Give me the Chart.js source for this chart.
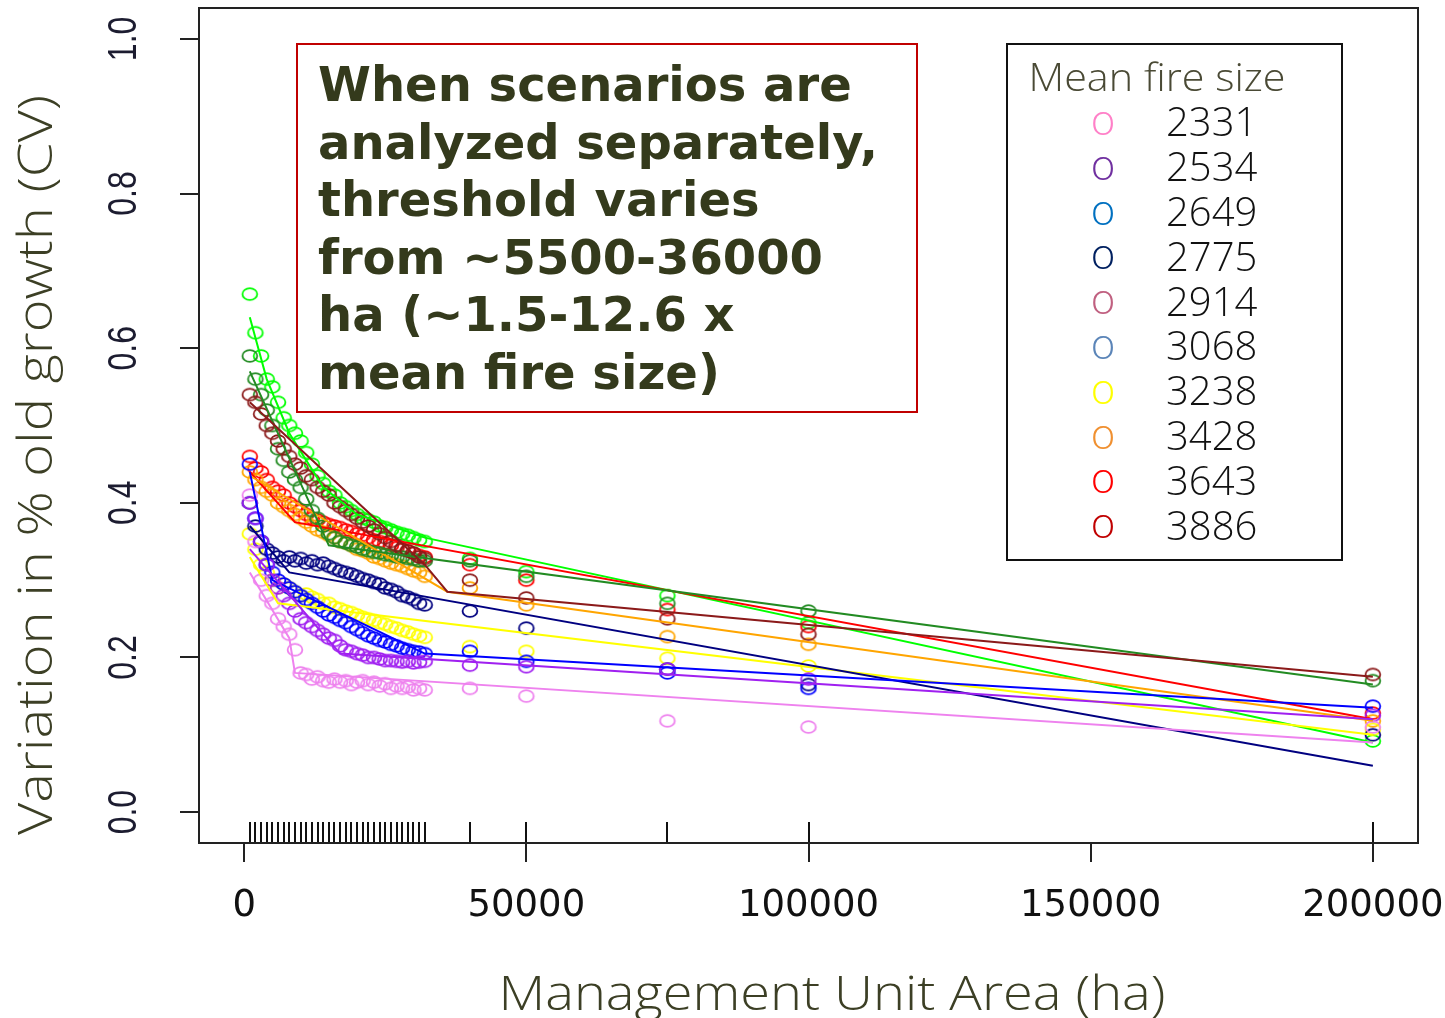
<!DOCTYPE html>
<html>
<head>
<meta charset="utf-8">
<script src="https://cdn.jsdelivr.net/npm/chart.js@4.4.0/dist/chart.umd.min.js"></script>
<style>
  html, body { margin: 0; padding: 0; background: #fff; }
  .wrap { width: 1445px; height: 1018px; position: relative; }
</style>
</head>
<body>
<div class="wrap"><canvas id="cvChart"></canvas></div>
<script>
// 管理単位面積 (ha)
const xArea = [1000, 2000, 3000, 4000, 5000, 6000, 7000, 8000, 9000, 10000,
  11000, 12000, 13000, 14000, 15000, 16000, 17000, 18000, 19000, 20000,
  21000, 22000, 23000, 24000, 25000, 26000, 27000, 28000, 29000, 30000,
  31000, 32000, 40000, 50000, 75000, 100000, 200000];

// 平均火災規模ごとの CV
const cv2331 = [0.41, 0.35, 0.30, 0.28, 0.27, 0.25, 0.24, 0.23, 0.21, 0.18, 0.178, 0.172, 0.175, 0.17, 0.168, 0.172, 0.168, 0.17, 0.165, 0.168, 0.17, 0.165, 0.168, 0.163, 0.166, 0.16, 0.163, 0.16, 0.162, 0.158, 0.16, 0.158, 0.16, 0.15, 0.118, 0.11, 0.11];
const cv2534 = [0.40, 0.38, 0.35, 0.32, 0.30, 0.29, 0.28, 0.27, 0.26, 0.25, 0.245, 0.24, 0.235, 0.23, 0.225, 0.222, 0.215, 0.21, 0.208, 0.205, 0.203, 0.20, 0.20, 0.198, 0.196, 0.196, 0.195, 0.194, 0.195, 0.193, 0.194, 0.195, 0.19, 0.188, 0.185, 0.172, 0.125];
const cv2649 = [0.45, 0.38, 0.35, 0.32, 0.31, 0.30, 0.295, 0.29, 0.285, 0.28, 0.275, 0.27, 0.265, 0.26, 0.255, 0.252, 0.248, 0.245, 0.24, 0.236, 0.232, 0.228, 0.225, 0.222, 0.22, 0.217, 0.215, 0.212, 0.21, 0.208, 0.207, 0.205, 0.208, 0.195, 0.18, 0.16, 0.137];
const cv2775 = [0.40, 0.37, 0.35, 0.34, 0.335, 0.33, 0.325, 0.33, 0.325, 0.328, 0.322, 0.325, 0.32, 0.322, 0.318, 0.315, 0.312, 0.31, 0.308, 0.305, 0.302, 0.30, 0.297, 0.295, 0.29, 0.288, 0.285, 0.28, 0.278, 0.275, 0.27, 0.268, 0.26, 0.238, 0.185, 0.165, 0.10];
const cv2914 = [0.54, 0.53, 0.515, 0.50, 0.49, 0.48, 0.47, 0.46, 0.45, 0.445, 0.435, 0.43, 0.42, 0.415, 0.41, 0.40, 0.395, 0.39, 0.385, 0.38, 0.375, 0.37, 0.365, 0.36, 0.355, 0.35, 0.345, 0.34, 0.338, 0.335, 0.33, 0.328, 0.30, 0.277, 0.25, 0.23, 0.178];
const cv3068 = [0.59, 0.56, 0.54, 0.52, 0.50, 0.47, 0.455, 0.44, 0.43, 0.42, 0.405, 0.39, 0.38, 0.37, 0.36, 0.355, 0.35, 0.348, 0.345, 0.343, 0.34, 0.338, 0.336, 0.335, 0.333, 0.332, 0.33, 0.33, 0.328, 0.327, 0.325, 0.325, 0.325, 0.305, 0.27, 0.26, 0.17];
const cv3238 = [0.36, 0.34, 0.32, 0.31, 0.30, 0.29, 0.295, 0.29, 0.285, 0.28, 0.282, 0.278, 0.275, 0.27, 0.27, 0.265, 0.263, 0.26, 0.258, 0.255, 0.252, 0.25, 0.248, 0.245, 0.243, 0.24, 0.238, 0.235, 0.233, 0.23, 0.228, 0.226, 0.214, 0.208, 0.199, 0.189, 0.107];
const cv3428 = [0.44, 0.43, 0.42, 0.415, 0.41, 0.40, 0.395, 0.39, 0.385, 0.38, 0.375, 0.37, 0.365, 0.362, 0.358, 0.355, 0.35, 0.348, 0.345, 0.34, 0.338, 0.335, 0.33, 0.328, 0.325, 0.322, 0.32, 0.318, 0.315, 0.312, 0.31, 0.305, 0.29, 0.268, 0.227, 0.217, 0.118];
const cv3643 = [0.46, 0.445, 0.44, 0.43, 0.42, 0.415, 0.41, 0.40, 0.395, 0.39, 0.385, 0.38, 0.378, 0.375, 0.372, 0.37, 0.368, 0.365, 0.363, 0.36, 0.358, 0.355, 0.352, 0.35, 0.348, 0.345, 0.342, 0.34, 0.338, 0.335, 0.332, 0.33, 0.32, 0.30, 0.262, 0.24, 0.128];
const cv3886 = [0.67, 0.62, 0.59, 0.56, 0.55, 0.53, 0.51, 0.50, 0.49, 0.48, 0.465, 0.45, 0.435, 0.425, 0.415, 0.41, 0.40, 0.395, 0.39, 0.385, 0.38, 0.378, 0.375, 0.37, 0.368, 0.365, 0.362, 0.36, 0.358, 0.355, 0.352, 0.35, 0.328, 0.311, 0.28, 0.245, 0.092];

// 回帰線（折れ線の頂点）
const fitX2331 = [1000, 8000, 9000, 200000];      const fitY2331 = [0.31, 0.225, 0.18, 0.09];
const fitX2534 = [1000, 17000, 200000];           const fitY2534 = [0.34, 0.205, 0.12];
const fitX2649 = [1000, 5000, 32000, 200000];     const fitY2649 = [0.44, 0.30, 0.205, 0.135];
const fitX2775 = [1000, 8000, 200000];            const fitY2775 = [0.37, 0.31, 0.06];
const fitX2914 = [1000, 32000, 36000, 200000];    const fitY2914 = [0.53, 0.32, 0.285, 0.175];
const fitX3068 = [1000, 15000, 200000];           const fitY3068 = [0.57, 0.345, 0.165];
const fitX3238 = [1000, 6000, 200000];            const fitY3238 = [0.33, 0.27, 0.10];
const fitX3428 = [1000, 36000, 200000];           const fitY3428 = [0.435, 0.285, 0.118];
const fitX3643 = [1000, 9000, 200000];            const fitY3643 = [0.44, 0.375, 0.12];
const fitX3886 = [1000, 4000, 8000, 14000, 20000, 32000, 200000];
const fitY3886 = [0.64, 0.56, 0.49, 0.42, 0.385, 0.355, 0.09];

// 凡例
const fireSizes = ["2331", "2534", "2649", "2775", "2914", "3068", "3238", "3428", "3643", "3886"];
const legendColors = ["#ff80c8", "#7030a0", "#0070c0", "#002060", "#c06080", "#5b85b8", "#ffff00", "#f09030", "#ff0000", "#c00000"];
const plotColors = ["#ee82ee", "#a020f0", "#0000ff", "#000080", "#8b1a1a", "#228b22", "#ffff00", "#ffa500", "#ff0000", "#00ff00"];

const xTicks = [0, 50000, 100000, 150000, 200000];
const yTicks = [0, 0.2, 0.4, 0.6, 0.8, 1.0];

const noteLines = [
  "When scenarios are",
  "analyzed separately,",
  "threshold varies",
  "from ~5500-36000",
  "ha (~1.5-12.6 x",
  "mean fire size)",
];

const cvSeries = [cv2331, cv2534, cv2649, cv2775, cv2914, cv3068, cv3238, cv3428, cv3643, cv3886];
const fitXs = [fitX2331, fitX2534, fitX2649, fitX2775, fitX2914, fitX3068, fitX3238, fitX3428, fitX3643, fitX3886];
const fitYs = [fitY2331, fitY2534, fitY2649, fitY2775, fitY2914, fitY3068, fitY3238, fitY3428, fitY3643, fitY3886];

// 横長の楕円マーカー
function ringMarker(color) {
  const c = document.createElement("canvas");
  c.width = 20;
  c.height = 16;
  const g = c.getContext("2d");
  g.strokeStyle = color;
  g.lineWidth = 1.8;
  g.beginPath();
  g.ellipse(10, 8, 7.4, 5.8, 0, 0, Math.PI * 2);
  g.stroke();
  return c;
}

const datasets = [];
fireSizes.forEach((label, i) => {
  datasets.push({
    label: label,
    data: xArea.map((x, j) => ({ x: x, y: cvSeries[i][j] })),
    pointStyle: ringMarker(plotColors[i]),
    pointRadius: 7,
    showLine: false,
    order: 2,
  });
  datasets.push({
    label: label + " fit",
    data: fitXs[i].map((x, j) => ({ x: x, y: fitYs[i][j] })),
    showLine: true,
    borderColor: plotColors[i],
    borderWidth: 2,
    pointRadius: 0,
    order: 1,
  });
});

function drawFitted(ctx, text, x, y, width, font, color, rotate) {
  ctx.save();
  ctx.font = font;
  ctx.fillStyle = color;
  ctx.textAlign = "center";
  ctx.textBaseline = "alphabetic";
  const w = ctx.measureText(text).width;
  ctx.translate(x, y);
  if (rotate) ctx.rotate(-Math.PI / 2);
  ctx.scale(width / w, 1);
  ctx.fillText(text, 0, 0);
  ctx.restore();
}

const decorPlugin = {
  id: "decor",
  afterDraw(chart) {
    const ctx = chart.ctx;
    const xs = chart.scales.x;
    const ys = chart.scales.y;
    const a = chart.chartArea;
    ctx.save();

    // ラグ
    ctx.strokeStyle = "#111";
    ctx.lineWidth = 2;
    xArea.forEach((v) => {
      const px = Math.round(xs.getPixelForValue(v));
      ctx.beginPath();
      ctx.moveTo(px, a.bottom);
      ctx.lineTo(px, a.bottom - 21);
      ctx.stroke();
    });

    // 枠
    ctx.strokeStyle = "#222";
    ctx.strokeRect(a.left, a.top, a.right - a.left, a.bottom - a.top);

    // x 目盛りラベル
    ctx.fillStyle = "#111";
    ctx.font = "37px 'DejaVu Sans'";
    ctx.textAlign = "center";
    ctx.textBaseline = "alphabetic";
    xTicks.forEach((v) => {
      ctx.fillText(String(v), xs.getPixelForValue(v), 916);
    });

    // y 目盛りラベル（回転）
    yTicks.forEach((v) => {
      ctx.save();
      ctx.translate(125, ys.getPixelForValue(v));
      ctx.rotate(-Math.PI / 2);
      ctx.scale(1, 1.25);
      ctx.font = "32px 'Liberation Sans'";
      ctx.fillStyle = "#1c1c30";
      ctx.textAlign = "center";
      ctx.textBaseline = "middle";
      ctx.fillText(v.toFixed(1), 0, 0);
      ctx.restore();
    });

    // 軸タイトル
    drawFitted(ctx, "Management Unit Area (ha)", 832, 1010, 667, "300 48px 'Open Sans'", "#3c3f25", false);
    drawFitted(ctx, "Variation in % old growth (CV)", 52, 465, 740, "300 47px 'Open Sans'", "#3c3f25", true);

    // 注記ボックス
    ctx.fillStyle = "#fff";
    ctx.fillRect(297, 44, 620, 368);
    ctx.strokeStyle = "#c00000";
    ctx.lineWidth = 2;
    ctx.strokeRect(297, 44, 620, 368);
    ctx.fillStyle = "#343a1c";
    ctx.font = "bold 48px 'DejaVu Sans'";
    ctx.textAlign = "left";
    noteLines.forEach((t, i) => {
      ctx.fillText(t, 318, 101 + i * 57.5);
    });

    // 凡例
    ctx.fillStyle = "#fff";
    ctx.fillRect(1007, 44, 335, 516);
    ctx.strokeStyle = "#111";
    ctx.strokeRect(1007, 44, 335, 516);
    drawFitted(ctx, "Mean fire size", 1157, 91, 257, "300 38px 'Open Sans'", "#4a4a35", false);
    fireSizes.forEach((s, i) => {
      const cy = 125 + i * 44.8;
      ctx.font = "300 42px 'Open Sans'";
      ctx.fillStyle = legendColors[i];
      ctx.textAlign = "center";
      ctx.textBaseline = "middle";
      ctx.fillText("o", 1103, cy - 2);
      ctx.font = "300 40px 'Open Sans'";
      ctx.fillStyle = "#111";
      ctx.textAlign = "left";
      ctx.fillText(s, 1166, cy);
    });

    ctx.restore();
  },
};

new Chart(document.getElementById("cvChart"), {
  type: "scatter",
  data: { datasets: datasets },
  options: {
    responsive: true,
    maintainAspectRatio: false,
    animation: false,
    layout: { padding: { left: 0, top: 6, right: 27, bottom: 0 } },
    plugins: {
      legend: { display: false },
      tooltip: { enabled: false },
    },
    scales: {
      x: {
        type: "linear",
        min: -8000,
        max: 208000,
        afterBuildTicks: (scale) => {
          scale.ticks = xTicks.map((v) => ({ value: v }));
        },
        afterFit: (scale) => {
          scale.height = 175;
        },
        ticks: { display: false },
        border: { display: false },
        grid: { drawOnChartArea: false, drawTicks: true, tickLength: 19, color: "#222", lineWidth: 2 },
      },
      y: {
        type: "linear",
        min: -0.04,
        max: 1.04,
        afterBuildTicks: (scale) => {
          scale.ticks = yTicks.map((v) => ({ value: v }));
        },
        afterFit: (scale) => {
          scale.width = 199;
        },
        ticks: { display: false },
        border: { display: false },
        grid: { drawOnChartArea: false, drawTicks: true, tickLength: 19, color: "#222", lineWidth: 2 },
      },
    },
  },
  plugins: [decorPlugin],
});
</script>
</body>
</html>
